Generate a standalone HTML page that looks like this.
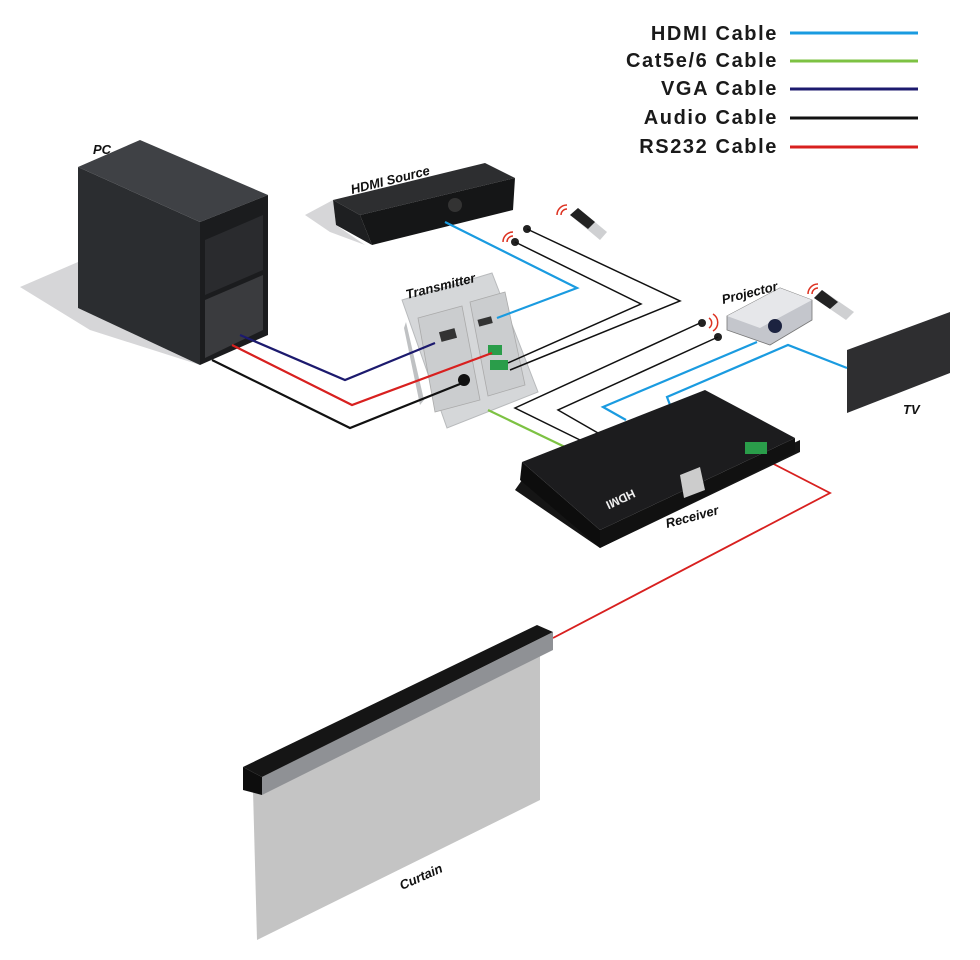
<!DOCTYPE html>
<html><head><meta charset="utf-8"><style>
html,body{margin:0;padding:0;background:#fff;}
svg{display:block;font-family:"Liberation Sans",sans-serif;}
.lb{font-weight:bold;font-style:italic;font-size:13px;fill:#111;}
</style></head><body>
<svg width="980" height="960" viewBox="0 0 980 960" xmlns="http://www.w3.org/2000/svg">
<!-- legend -->
<g font-weight="bold" font-size="20" fill="#1a1a1a" text-anchor="end" letter-spacing="1.6">
<text x="778" y="40">HDMI Cable</text>
<text x="778" y="67">Cat5e/6 Cable</text>
<text x="778" y="95">VGA Cable</text>
<text x="778" y="124">Audio Cable</text>
<text x="778" y="153">RS232 Cable</text>
</g>
<g stroke-width="3">
<line x1="790" y1="33" x2="918" y2="33" stroke="#1a9be0"/>
<line x1="790" y1="61" x2="918" y2="61" stroke="#7dc243"/>
<line x1="790" y1="89" x2="918" y2="89" stroke="#1c1a6e"/>
<line x1="790" y1="118" x2="918" y2="118" stroke="#111"/>
<line x1="790" y1="147" x2="918" y2="147" stroke="#d8201f"/>
</g>

<!-- PC -->
<polygon points="20,287 78,262 78,308 200,365 90,330" fill="#d6d6d8"/>
<polygon points="78,167 200,222 200,365 78,308" fill="#2b2d30"/>
<polygon points="78,167 140,140 268,195 200,222" fill="#3f4145"/>
<polygon points="200,222 268,195 268,335 200,365" fill="#1b1c1e"/>
<polygon points="205,240 263,215 263,270 205,295" fill="#2a2b2e"/>
<polygon points="205,300 263,275 263,330 205,358" fill="#3a3b3e"/>
<text class="lb" x="93" y="154">PC</text>

<!-- HDMI Source -->
<polygon points="305,215 333,200 336,225 365,245 330,232" fill="#d6d6d8"/>
<polygon points="333,200 485,163 515,178 360,215" fill="#2d2e30"/>
<polygon points="333,200 360,215 372,245 336,225" fill="#1e1f21"/>
<polygon points="360,215 515,178 513,210 372,245" fill="#151617"/>
<circle cx="455" cy="205" r="7" fill="#333"/>
<text class="lb" font-size="15" transform="translate(352,194) rotate(-14)">HDMI Source</text>

<!-- remotes -->
<polygon points="570,215 578,208 607,232 600,240" fill="#cfd0d2"/>
<polygon points="570,215 578,208 595,222 588,229" fill="#222"/>
<polygon points="814,298 822,290 854,312 846,320" fill="#cfd0d2"/>
<polygon points="814,298 822,290 838,302 830,309" fill="#222"/>
<g fill="none" stroke="#d32" stroke-width="1.5">
<path d="M561 215 a6 6 0 0 1 6 -6"/><path d="M557 215 a10 10 0 0 1 10 -10"/>
<path d="M812 294 a6 6 0 0 1 6 -6"/><path d="M808 294 a10 10 0 0 1 10 -10"/>
<path d="M507 242 a6 6 0 0 1 6 -6"/><path d="M503 242 a10 10 0 0 1 10 -10"/>
<path d="M709 318 a6 6 0 0 1 0 10"/><path d="M713 314 a10 10 0 0 1 0 17"/>
</g>
<circle cx="515" cy="242" r="4" fill="#222"/>
<circle cx="527" cy="229" r="4" fill="#222"/>
<circle cx="702" cy="323" r="4" fill="#222"/>
<circle cx="718" cy="337" r="4" fill="#222"/>

<!-- Transmitter -->
<polygon points="402,300 492,273 538,392 447,428" fill="#d5d7d9" stroke="#b8babc"/>
<polygon points="404,328 406,322 424,400 420,405" fill="#bfc1c3"/>
<polygon points="418,318 462,306 480,400 435,412" fill="#cbcdcf" stroke="#aaa" stroke-width="0.8"/>
<polygon points="470,302 505,292 525,385 488,396" fill="#cbcdcf" stroke="#aaa" stroke-width="0.8"/>
<rect x="440" y="330" width="16" height="10" fill="#333" transform="rotate(-15 448 335)"/>
<rect x="478" y="318" width="14" height="7" fill="#333" transform="rotate(-15 485 321)"/>
<circle cx="464" cy="380" r="6" fill="#111"/>
<rect x="488" y="345" width="14" height="10" fill="#2a9d4a"/>
<rect x="490" y="360" width="18" height="10" fill="#2a9d4a"/>
<text class="lb" font-size="15" transform="translate(407,299) rotate(-14)">Transmitter</text>

<!-- Projector -->
<polygon points="727,316 780,288 812,300 812,320 770,345 727,330" fill="#c4c6cc" stroke="#777" stroke-width="0.8"/>
<polygon points="727,316 780,288 812,300 760,328" fill="#e6e7ea"/>
<circle cx="775" cy="326" r="7" fill="#1c2340"/>
<text class="lb" font-size="15" transform="translate(723,304) rotate(-14)">Projector</text>

<!-- TV -->
<polygon points="847,350 950,312 950,373 847,413" fill="#2e2e30"/>
<text class="lb" font-size="15" x="903" y="414">TV</text>

<!-- cables -->
<g fill="none" stroke-width="2.2">
<polyline points="240,335 345,380 435,343" stroke="#1c1a6e"/>
<polyline points="232,345 352,405 492,353" stroke="#d8201f"/>
<polyline points="212,360 350,428 465,382" stroke="#111"/>
<polyline points="445,222 577,288 497,318" stroke="#1a9be0"/>
<polyline points="515,242 641,304 508,363" stroke="#111" stroke-width="1.5"/>
<polyline points="527,229 680,301 510,370" stroke="#111" stroke-width="1.5"/>
<polyline points="700,323 515,408 580,440" stroke="#111" stroke-width="1.5"/>
<polyline points="718,337 558,410 598,433" stroke="#111" stroke-width="1.5"/>
<polyline points="757,342 603,407 626,420" stroke="#1a9be0"/>
<polyline points="847,368 788,345 667,397 670,405" stroke="#1a9be0"/>
<polyline points="488,410 565,447" stroke="#7dc243"/>
<polyline points="762,458 830,493 553,638" stroke="#d8201f" stroke-width="1.8"/>
</g>

<!-- Receiver -->
<polygon points="515,490 522,480 600,535 800,440 800,452 600,548" fill="#151515"/>
<polygon points="522,462 600,530 600,548 520,480" fill="#0d0d0d"/>
<polygon points="600,530 795,438 795,452 600,548" fill="#111"/>
<polygon points="522,462 705,390 795,438 600,530" fill="#1c1c1e"/>
<polygon points="680,475 700,467 705,490 684,498" fill="#ccc"/>
<rect x="745" y="442" width="22" height="12" fill="#2a9d4a"/>
<text font-weight="bold" font-size="12" fill="#eee" transform="translate(605,502) rotate(-25) scale(-1,-1)" text-anchor="end">HDMI</text>
<text class="lb" font-size="15" transform="translate(667,528) rotate(-15)">Receiver</text>

<!-- Curtain -->
<polygon points="253,790 540,655 540,800 257,940" fill="#c4c4c4"/>
<polygon points="262,777 553,632 553,650 262,795" fill="#8f9195"/>
<polygon points="243,767 537,625 553,632 262,777" fill="#151515"/>
<polygon points="243,767 262,777 262,795 243,790" fill="#0d0d0d"/>
<text class="lb" font-size="15" transform="translate(402,890) rotate(-24)">Curtain</text>
</svg>
</body></html>
